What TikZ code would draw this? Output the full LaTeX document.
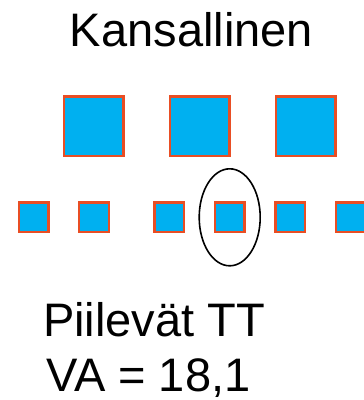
\documentclass[tikz,border=0pt]{standalone}
\usepackage{fontspec}
\setmainfont{Liberation Sans}
\definecolor{boxfill}{HTML}{00B0F0}
\definecolor{boxedge}{HTML}{E94E24}
\begin{document}
\begin{tikzpicture}[x=1pt,y=-1pt,
  unit/.style={draw=boxedge,line width=2.4pt,fill=boxfill,inner sep=0pt,outer sep=0pt},
  bigbox/.style={unit,minimum size=59.6pt},
  smallbox/.style={unit,minimum size=29.6pt},
  label/.style={inner sep=0pt,font=\fontsize{47}{55}\selectfont}]
\useasboundingbox (0,0) rectangle (364,400);
% heading
\node[label,anchor=base] (title) at (191.5,46.7) {Kansallinen};
% top row of large units
\node[bigbox] (b1) at (93.7,126.3) {};
\node[bigbox] (b2) at (199.7,126.3) {};
\node[bigbox] (b3) at (305.7,126.3) {};
% bottom row of small units
\node[smallbox] (s1) at (33.7,217.3) {};
\node[smallbox] (s2) at (94,217.3) {};
\node[smallbox] (s3) at (169.3,217.3) {};
\node[smallbox] (s4) at (229.7,217.3) {};
\node[smallbox] (s5) at (290.3,217.3) {};
\node[smallbox] (s6) at (351,217.3) {};
% highlight around one small unit
\draw[line width=1.6pt] (s4.center) ellipse [x radius=30.5, y radius=48.5];
% caption
\node[label,anchor=base west] (cap1) at (43,336) {Piilevät TT};
\node[label,anchor=base west] (cap2) at (46,391.3) {VA = 18,1};
\end{tikzpicture}
\end{document}
